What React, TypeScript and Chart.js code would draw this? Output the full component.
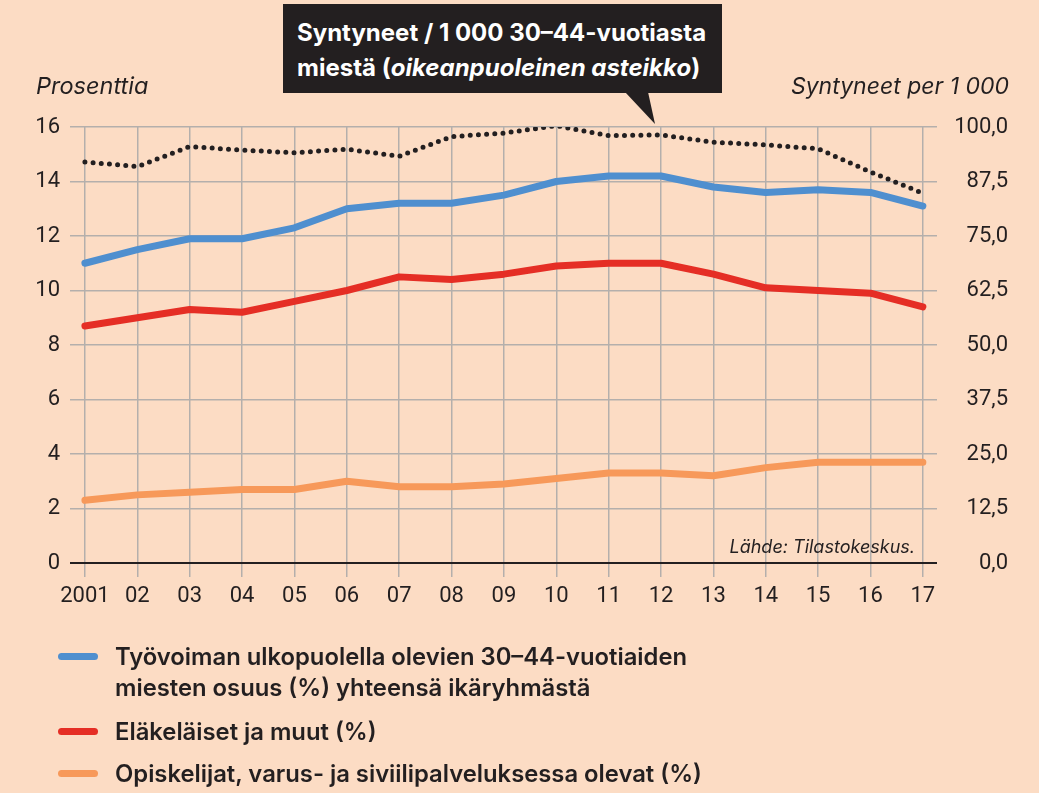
import React, { useEffect, useRef } from "react";
import { Chart, registerables } from "chart.js";

Chart.register(...registerables);

const years = [2001, 2002, 2003, 2004, 2005, 2006, 2007, 2008, 2009, 2010, 2011, 2012, 2013, 2014, 2015, 2016, 2017];
const yearLabels = ["2001", "02", "03", "04", "05", "06", "07", "08", "09", "10", "11", "12", "13", "14", "15", "16", "17"];
const outsideLabourForce = [11.0, 11.5, 11.9, 11.9, 12.3, 13.0, 13.2, 13.2, 13.5, 14.0, 14.2, 14.2, 13.8, 13.6, 13.7, 13.6, 13.1];
const pensionersOther = [8.7, 9.0, 9.3, 9.2, 9.6, 10.0, 10.5, 10.4, 10.6, 10.9, 11.0, 11.0, 10.6, 10.1, 10.0, 9.9, 9.4];
const studentsService = [2.3, 2.5, 2.6, 2.7, 2.7, 3.0, 2.8, 2.8, 2.9, 3.1, 3.3, 3.3, 3.2, 3.5, 3.7, 3.7, 3.7];
const birthsPer1000 = [92.0, 90.9, 95.5, 94.7, 94.1, 94.9, 93.3, 97.8, 98.6, 100.3, 98.0, 98.2, 96.5, 95.9, 95.0, 89.7, 84.8];
const leftTicks = [0, 2, 4, 6, 8, 10, 12, 14, 16];
const rightTicks = [0, 12.5, 25, 37.5, 50, 62.5, 75, 87.5, 100];

const seriesNames = [
  "Työvoiman ulkopuolella olevien 30–44-vuotiaiden miesten osuus (%) yhteensä ikäryhmästä",
  "Eläkeläiset ja muut (%)",
  "Opiskelijat, varus- ja siviilipalveluksessa olevat (%)",
  "Syntyneet / 1 000 30–44-vuotiasta miestä",
];

const BG = "#FCDCC4";
const DARK = "#231F20";
const GRID = "#B4AFAC";
const BLUE = "#4F8FCF";
const RED = "#E52E25";
const ORANGE = "#F7995A";
const TICK_FONT = "Roboto, 'Liberation Sans', sans-serif";
const TEXT_FONT = "Inter, Roboto, sans-serif";

export default function App() {
  const canvasRef = useRef<HTMLCanvasElement | null>(null);

  useEffect(() => {
    const canvas = canvasRef.current;
    if (!canvas) return;
    const chart = new Chart(canvas, {
      type: "line",
      data: {
        labels: years,
        datasets: [
          {
            label: seriesNames[3],
            data: birthsPer1000,
            yAxisID: "y1",
            borderColor: DARK,
            borderWidth: 5,
            borderDash: [0, 8.2],
            borderCapStyle: "round",
            borderJoinStyle: "round",
            pointRadius: 0,
            tension: 0,
            fill: false,
          },
          {
            label: seriesNames[0],
            data: outsideLabourForce,
            yAxisID: "y",
            borderColor: BLUE,
            borderWidth: 7,
            borderCapStyle: "round",
            borderJoinStyle: "round",
            pointRadius: 0,
            tension: 0,
            fill: false,
          },
          {
            label: seriesNames[1],
            data: pensionersOther,
            yAxisID: "y",
            borderColor: RED,
            borderWidth: 7,
            borderCapStyle: "round",
            borderJoinStyle: "round",
            pointRadius: 0,
            tension: 0,
            fill: false,
          },
          {
            label: seriesNames[2],
            data: studentsService,
            yAxisID: "y",
            borderColor: ORANGE,
            borderWidth: 7,
            borderCapStyle: "round",
            borderJoinStyle: "round",
            pointRadius: 0,
            tension: 0,
            fill: false,
          },
        ],
      },
      options: {
        responsive: false,
        animation: false,
        devicePixelRatio: 1,
        layout: { padding: { top: 127, left: 0, right: 31, bottom: 170 } },
        plugins: {
          legend: { display: false },
          tooltip: { enabled: false },
        },
        scales: {
          x: {
            type: "linear",
            min: 2000.715,
            max: 2017.27,
            afterBuildTicks: (s: any) => {
              s.ticks = years.map((v) => ({ value: v }));
            },
            afterFit: (s: any) => {
              s.height = 60;
            },
            grid: {
              color: GRID,
              lineWidth: 1.5,
              drawTicks: true,
              tickLength: 14,
              tickColor: GRID,
              tickWidth: 1.5,
            },
            border: { display: false },
            ticks: {
              autoSkip: false,
              maxRotation: 0,
              padding: 6,
              color: DARK,
              font: { family: TICK_FONT, size: 22 },
              callback: (v: any) => {
                const i = years.indexOf(Number(v));
                return i >= 0 ? yearLabels[i] : "";
              },
            },
          },
          y: {
            position: "left",
            min: 0,
            max: 16,
            afterBuildTicks: (s: any) => {
              s.ticks = leftTicks.map((v) => ({ value: v }));
            },
            afterFit: (s: any) => {
              s.width = 70;
            },
            grid: {
              color: (ctx: any) => (ctx.tick && ctx.tick.value === 0 ? DARK : GRID),
              lineWidth: (ctx: any) => (ctx.tick && ctx.tick.value === 0 ? 2 : 1.5),
              drawTicks: false,
            },
            border: { display: false },
            ticks: {
              padding: 10,
              color: DARK,
              font: { family: TICK_FONT, size: 22 },
              callback: (v: any) => String(v),
            },
          },
          y1: {
            position: "right",
            min: 0,
            max: 100,
            afterBuildTicks: (s: any) => {
              s.ticks = rightTicks.map((v) => ({ value: v }));
            },
            afterFit: (s: any) => {
              s.width = 71;
            },
            grid: { display: false, drawTicks: false },
            border: { display: false },
            ticks: {
              crossAlign: "far",
              padding: 8,
              color: DARK,
              font: { family: TICK_FONT, size: 22 },
              callback: (v: any) => Number(v).toFixed(1).replace(".", ","),
            },
          },
        },
      },
    } as any);
    return () => chart.destroy();
  }, []);

  const legendItems = [
    { color: BLUE, lines: ["Työvoiman ulkopuolella olevien 30–44-vuotiaiden", "miesten osuus (%) yhteensä ikäryhmästä"], top: 641 },
    { color: RED, lines: [seriesNames[1]], top: 716 },
    { color: ORANGE, lines: [seriesNames[2]], top: 758 },
  ];

  return (
    <div
      style={{
        position: "fixed",
        left: 0,
        top: 0,
        width: 1039,
        height: 793,
        background: BG,
        overflow: "hidden",
        fontFamily: TEXT_FONT,
        color: DARK,
      }}
    >
      <canvas ref={canvasRef} width={1039} height={793} style={{ position: "absolute", left: 0, top: 0, display: "block" }} />

      <div style={{ position: "absolute", left: 36, top: 71, fontSize: 23.5, lineHeight: "30px", fontStyle: "italic", whiteSpace: "nowrap" }}>
        Prosenttia
      </div>
      <div style={{ position: "absolute", right: 30, top: 71, fontSize: 23, lineHeight: "30px", fontStyle: "italic", whiteSpace: "nowrap" }}>
        Syntyneet per 1 000
      </div>

      <div
        style={{
          position: "absolute",
          left: 283,
          top: 4,
          width: 439,
          height: 89,
          background: DARK,
          color: "#FFFFFF",
          fontWeight: 700,
          fontSize: 24,
          lineHeight: "35px",
          padding: "11px 0 0 14px",
          boxSizing: "border-box",
          whiteSpace: "nowrap",
        }}
      >
        <div>Syntyneet / 1 000 30–44-vuotiasta</div>
        <div>
          miestä (<i>oikeanpuoleinen asteikko</i>)
        </div>
      </div>
      <div
        style={{
          position: "absolute",
          left: 625,
          top: 92,
          width: 31,
          height: 33,
          background: DARK,
          clipPath: "polygon(0 0, 23px 0, 30px 32px)",
        }}
      />

      <div style={{ position: "absolute", right: 124, top: 535, fontSize: 18, lineHeight: "24px", fontStyle: "italic", whiteSpace: "nowrap" }}>
        Lähde: Tilastokeskus.
      </div>

      {legendItems.map((it, i) => (
        <div key={i} style={{ position: "absolute", left: 0, top: it.top }}>
          <div
            style={{
              position: "absolute",
              left: 58,
              top: 12,
              width: 40,
              height: 7,
              borderRadius: 4,
              background: it.color,
            }}
          />
          <div style={{ position: "absolute", left: 115, top: 0, fontSize: 23.8, lineHeight: "31px", fontWeight: 600, whiteSpace: "nowrap" }}>
            {it.lines.map((l, j) => (
              <div key={j}>{l}</div>
            ))}
          </div>
        </div>
      ))}
    </div>
  );
}
